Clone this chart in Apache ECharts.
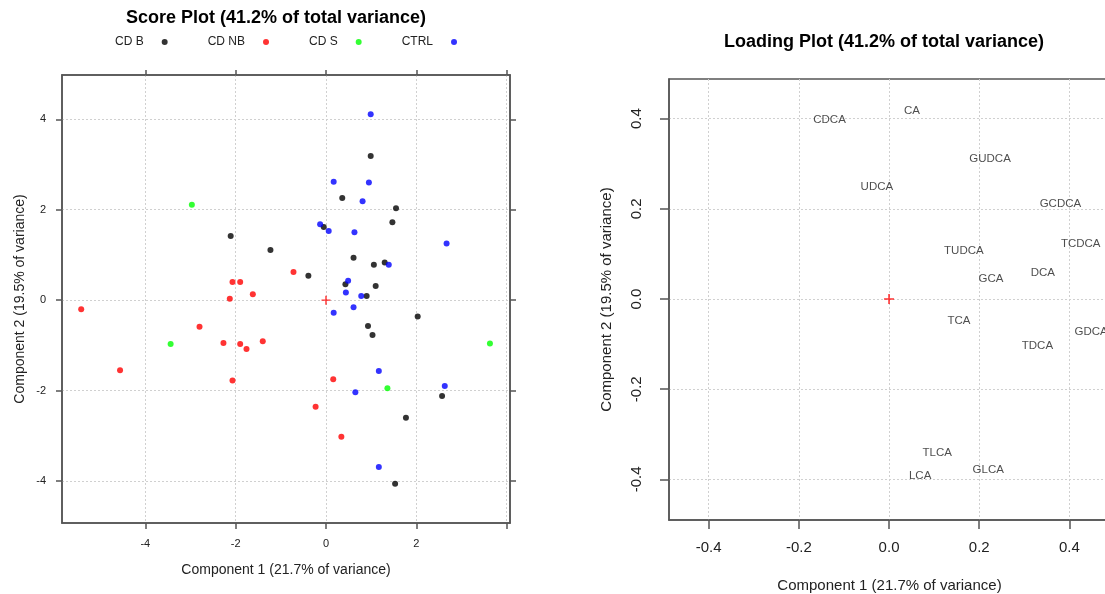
<!DOCTYPE html>
<html>
<head>
<meta charset="utf-8">
<title>Score Plot / Loading Plot</title>
<script src="https://cdn.jsdelivr.net/npm/echarts@6/dist/echarts.min.js"></script>
<style>
html, body { margin: 0; padding: 0; background: #fff; }
#chart { width: 1105px; height: 594px; }
</style>
</head>
<body>
<div id="chart"></div>
<script>
// scores, [component 1, component 2]
var cdB = [[-2.11, 1.42], [-1.23, 1.11], [0.99, 3.19], [0.36, 2.26], [1.55, 2.03], [1.47, 1.72],
	[-0.05, 1.62], [0.61, 0.94], [1.06, 0.78], [1.30, 0.83], [-0.39, 0.54], [0.43, 0.35],
	[1.10, 0.31], [0.90, 0.09], [2.03, -0.36], [0.93, -0.57], [1.03, -0.77], [2.57, -2.12],
	[1.77, -2.60], [1.53, -4.06]];
var cdNB = [[-0.72, 0.62], [-2.07, 0.40], [-1.90, 0.40], [-1.62, 0.13], [-2.13, 0.03], [-5.42, -0.20],
	[-2.80, -0.59], [-2.27, -0.95], [-1.90, -0.97], [-1.76, -1.08], [-1.40, -0.91], [-4.56, -1.55],
	[-2.07, -1.78], [0.16, -1.75], [-0.23, -2.36], [0.34, -3.02]];
var cdS = [[-2.97, 2.11], [-3.44, -0.97], [3.63, -0.96], [1.36, -1.95]];
var ctrl = [[0.99, 4.11], [0.17, 2.62], [0.95, 2.60], [0.81, 2.19], [-0.13, 1.68], [0.06, 1.53],
	[0.63, 1.50], [2.67, 1.25], [1.39, 0.78], [0.49, 0.43], [0.44, 0.17], [0.78, 0.09],
	[0.17, -0.28], [0.61, -0.16], [1.17, -1.57], [2.63, -1.90], [0.65, -2.04], [1.17, -3.69]];
var groupNames = ['CD B', 'CD NB', 'CD S', 'CTRL'];

// loadings
var loadingNames = ['CDCA', 'CA', 'GUDCA', 'UDCA', 'GCDCA', 'TCDCA', 'TUDCA', 'DCA', 'GCA',
	'TCA', 'GDCA', 'TDCA', 'TLCA', 'GLCA', 'LCA'];
var loadingX = [-0.132, 0.051, 0.224, -0.027, 0.380, 0.425, 0.166, 0.341, 0.226,
	0.155, 0.448, 0.329, 0.107, 0.220, 0.069];
var loadingY = [0.397, 0.417, 0.312, 0.248, 0.211, 0.122, 0.106, 0.058, 0.044,
	-0.048, -0.073, -0.103, -0.340, -0.379, -0.392];

var origin = [[0, 0]];

// tick values
var scoreXTicks = [-4, -2, 0, 2, 4];
var scoreXLabels = [-4, -2, 0, 2];
var scoreYTicks = [-4, -2, 0, 2, 4];
var loadTicks = [-0.4, -0.2, 0, 0.2, 0.4];

var groupColors = ['#000000', '#ff0000', '#00ff00', '#0000ff'];
// dot placed to the right of the legend text, with empty space before it
var legendIcon = 'path://M0,3h0.01v0.01h-0.01zM13,3a3,3 0 1,0 6,0a3,3 0 1,0 -6,0z';
var crossPath = 'path://M4.2,0h1.6v10h-1.6zM0,4.2h10v1.6h-10z';

var gridLine = { show: true, lineStyle: { color: '#d0d0d0', type: [2, 2], width: 1 } };
var axisLine = { show: true, onZero: false, lineStyle: { color: '#555', width: 1.5 } };

function tickStyle(len, values) {
	return { show: true, length: len, customValues: values, lineStyle: { color: '#555', width: 1.5 } };
}
function loadLabel(v) {
	return v.toFixed(1);
}

var loadingData = [];
for (var i = 0; i < loadingNames.length; i++) {
	loadingData.push({ name: loadingNames[i], value: [loadingX[i], loadingY[i]] });
}

var scoreSeries = [cdB, cdNB, cdS, ctrl].map(function (d, i) {
	return {
		name: groupNames[i],
		type: 'scatter',
		xAxisIndex: 0,
		yAxisIndex: 0,
		data: d,
		symbol: 'circle',
		symbolSize: 6,
		itemStyle: { color: groupColors[i] },
		z: 3
	};
});

var option = {
	animation: false,
	backgroundColor: '#fff',
	textStyle: { fontFamily: 'Liberation Sans, Arial, sans-serif' },
	title: [{
		text: 'Score Plot (41.2% of total variance)',
		left: 126,
		top: 9,
		padding: 0,
		textStyle: { fontSize: 18, fontWeight: 'bold', color: '#000' }
	}, {
		text: 'Loading Plot (41.2% of total variance)',
		left: 724,
		top: 33,
		padding: 0,
		textStyle: { fontSize: 18, fontWeight: 'bold', color: '#000' }
	}],
	legend: {
		data: groupNames,
		left: 115,
		top: 36,
		padding: 0,
		align: 'right',
		icon: legendIcon,
		itemWidth: 19,
		itemHeight: 6,
		itemGap: 40,
		selectedMode: false,
		textStyle: { fontSize: 12, color: '#222' }
	},
	grid: [{
		left: 62, top: 75, width: 448, height: 448,
		outerBoundsMode: 'none', containLabel: false,
		show: true, borderColor: '#555', borderWidth: 1.5
	}, {
		left: 669, top: 79, width: 441, height: 441,
		outerBoundsMode: 'none', containLabel: false,
		show: true, borderColor: '#555', borderWidth: 1.5
	}],
	xAxis: [{
		gridIndex: 0, type: 'value', position: 'bottom',
		min: -5.845, max: 4.074,
		axisLine: axisLine,
		axisTick: tickStyle(6, scoreXTicks),
		axisLabel: { show: true, margin: 15, fontSize: 11, color: '#222', customValues: scoreXLabels },
		splitLine: gridLine,
		name: 'Component 1 (21.7% of variance)',
		nameLocation: 'middle', nameGap: 40,
		nameTextStyle: { fontSize: 14, color: '#222' }
	}, {
		gridIndex: 0, type: 'value', position: 'top',
		min: -5.845, max: 4.074,
		axisLine: axisLine,
		axisTick: tickStyle(5, scoreXTicks),
		axisLabel: { show: false },
		splitLine: { show: false }
	}, {
		gridIndex: 1, type: 'value', position: 'bottom',
		min: -0.488, max: 0.49,
		axisLine: axisLine,
		axisTick: tickStyle(9, loadTicks),
		axisLabel: { show: true, margin: 20, fontSize: 15, color: '#222', customValues: loadTicks, formatter: loadLabel },
		splitLine: gridLine,
		name: 'Component 1 (21.7% of variance)',
		nameLocation: 'middle', nameGap: 58,
		nameTextStyle: { fontSize: 15, color: '#222' }
	}],
	yAxis: [{
		gridIndex: 0, type: 'value', position: 'left',
		min: -4.93, max: 4.98,
		axisLine: axisLine,
		axisTick: tickStyle(6, scoreYTicks),
		axisLabel: { show: true, margin: 16, fontSize: 11, color: '#222', customValues: scoreYTicks },
		splitLine: gridLine,
		name: 'Component 2 (19.5% of variance)',
		nameLocation: 'middle', nameGap: 35,
		nameTextStyle: { fontSize: 14, color: '#222' }
	}, {
		gridIndex: 0, type: 'value', position: 'right',
		min: -4.93, max: 4.98,
		axisLine: axisLine,
		axisTick: tickStyle(6, scoreYTicks),
		axisLabel: { show: false },
		splitLine: { show: false }
	}, {
		gridIndex: 1, type: 'value', position: 'left',
		min: -0.49, max: 0.488,
		axisLine: axisLine,
		axisTick: tickStyle(9, loadTicks),
		axisLabel: { show: true, margin: 25, fontSize: 15, color: '#222', rotate: 90, customValues: loadTicks, formatter: loadLabel },
		splitLine: gridLine,
		name: 'Component 2 (19.5% of variance)',
		nameLocation: 'middle', nameGap: 55,
		nameTextStyle: { fontSize: 15, color: '#222' }
	}],
	series: scoreSeries.concat([{
		name: 'origin',
		type: 'scatter',
		xAxisIndex: 0, yAxisIndex: 0,
		data: origin,
		symbol: crossPath,
		symbolSize: 9,
		itemStyle: { color: '#ff0000' },
		z: 4
	}, {
		name: 'origin2',
		type: 'scatter',
		xAxisIndex: 2, yAxisIndex: 2,
		data: origin,
		symbol: crossPath,
		symbolSize: 10,
		itemStyle: { color: '#ff0000' },
		z: 4
	}, {
		name: 'loadings',
		type: 'scatter',
		xAxisIndex: 2, yAxisIndex: 2,
		data: loadingData,
		symbolSize: 1,
		itemStyle: { color: 'rgba(0,0,0,0)' },
		label: {
			show: true,
			position: 'inside',
			formatter: '{b}',
			fontSize: 11.5,
			color: '#222'
		},
		labelLayout: { hideOverlap: false },
		z: 3
	}])
};

var myChart = echarts.init(document.getElementById('chart'));
myChart.setOption(option);
</script>
</body>
</html>
